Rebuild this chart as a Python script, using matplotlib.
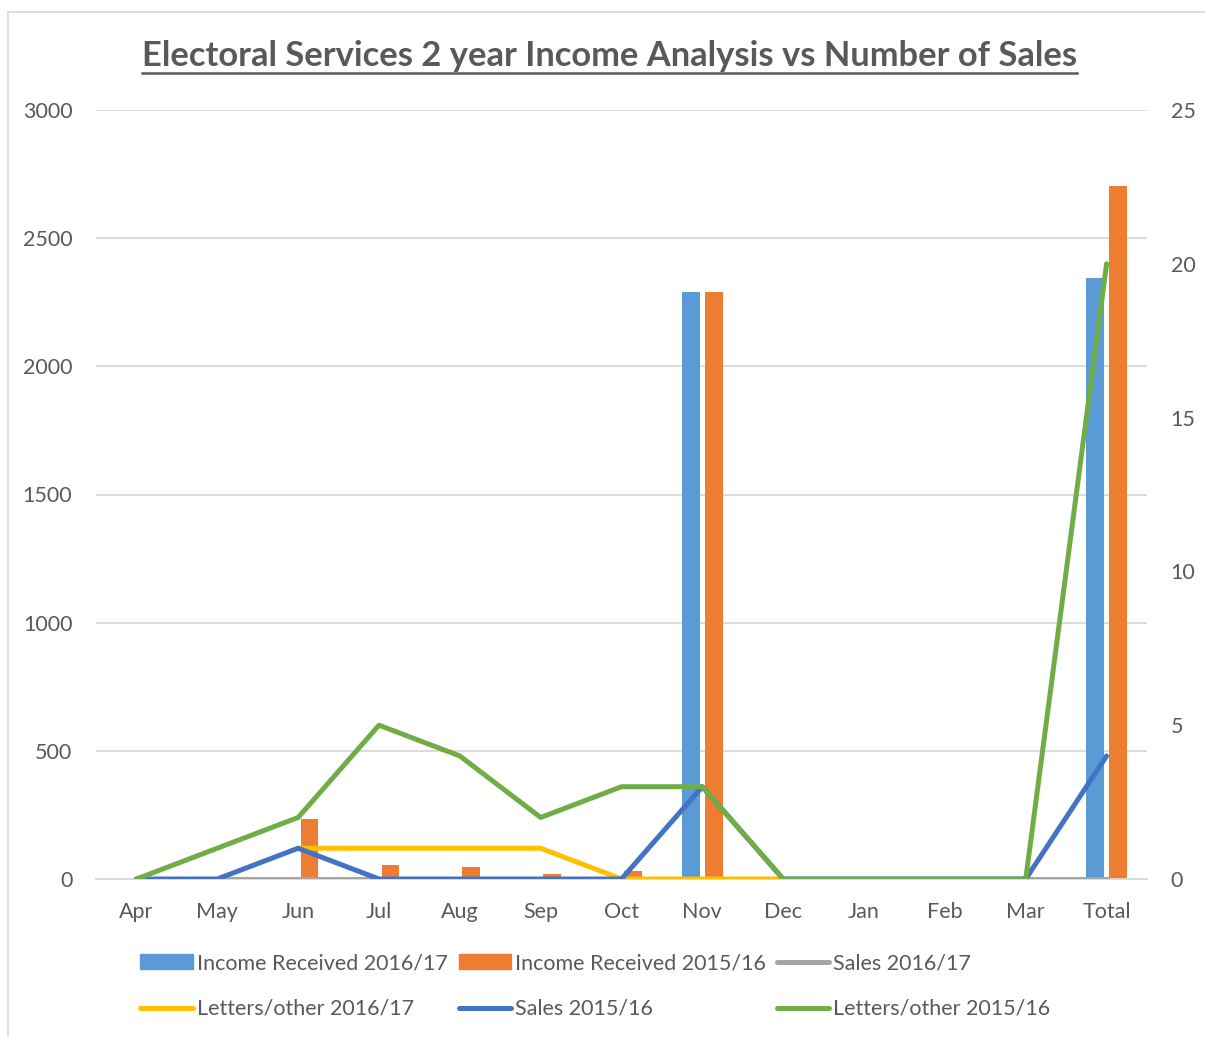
import matplotlib
matplotlib.use('Agg')
import matplotlib.pyplot as plt
import numpy as np
from matplotlib.lines import Line2D
from matplotlib.patches import Patch

plt.rcParams['font.family'] = ['Lato', 'DejaVu Sans']

months = ['Apr', 'May', 'Jun', 'Jul', 'Aug', 'Sep', 'Oct', 'Nov', 'Dec', 'Jan', 'Feb', 'Mar', 'Total']
income_1617 = [0, 0, 0, 0, 0, 0, 0, 2290, 0, 0, 0, 0, 2345]
income_1516 = [0, 0, 235, 55, 45, 18, 32, 2290, 0, 0, 0, 0, 2705]
sales_1617 = [0, 0, 0, 0, 0, 0, 0, 0, 0, 0, 0, 0, 0]
letters_1617 = [None, None, 1, 1, 1, 1, 0, 0, 0, None, None, None, None]
sales_1516 = [0, 0, 1, 0, 0, 0, 0, 3, 0, 0, 0, 0, 4]
letters_1516 = [0, 1, 2, 5, 4, 2, 3, 3, 0, 0, 0, 0, 20]

C_BLUE_BAR = '#5B9BD5'
C_ORANGE = '#ED7D31'
C_GRAY = '#A5A5A5'
C_YELLOW = '#FFC000'
C_BLUE = '#4472C4'
C_GREEN = '#70AD47'
TXT = '#595959'

W, H = 1205, 1037
fig = plt.figure(figsize=(W / 100, H / 100), dpi=100)

# chart border (partially cropped)
fig.add_artist(Line2D([8 / W, 1], [1 - 12 / H, 1 - 12 / H], color='#D9D9D9', lw=1.2))
fig.add_artist(Line2D([8 / W, 8 / W], [0, 1 - 12 / H], color='#D9D9D9', lw=1.2))

ax = fig.add_axes([96 / W, 1 - 879 / H, (1147 - 96) / W, (879 - 110) / H])
x = np.arange(len(months))
bw = 0.22
off = 0.142
ax.bar(x - off, income_1617, bw, color=C_BLUE_BAR, zorder=2)
ax.bar(x + off, income_1516, bw, color=C_ORANGE, zorder=2)
ax.set_ylim(0, 3000)
ax.set_xlim(-0.5, len(months) - 0.5)
ax.set_yticks(range(0, 3001, 500))
ax.yaxis.grid(True, color='#D9D9D9', lw=1.3, zorder=0)
ax.set_axisbelow(True)
ax.set_xticks(x)
ax.set_xticklabels(months)
ax.tick_params(axis='both', length=0, colors=TXT, labelsize=15.5)
ax.tick_params(axis='y', pad=17)
ax.tick_params(axis='x', pad=16.5)
for s in ['top', 'right', 'left']:
    ax.spines[s].set_visible(False)
ax.spines['bottom'].set_color('#D9D9D9')
ax.spines['bottom'].set_linewidth(1.3)

ax2 = ax.twinx()
ax2.set_ylim(0, 25)
ax2.set_yticks(range(0, 26, 5))
ax2.tick_params(axis='y', length=0, colors=TXT, labelsize=15.5, pad=17)
for s in ax2.spines.values():
    s.set_visible(False)

def arr(v):
    return np.array([np.nan if a is None else a for a in v], dtype=float)

lw = 3.6
ax2.plot(x, arr(sales_1617), color=C_GRAY, lw=lw, solid_capstyle='round')
ax2.plot(x, arr(letters_1617), color=C_YELLOW, lw=lw, solid_capstyle='round')
ax2.plot(x, arr(sales_1516), color=C_BLUE, lw=lw, solid_capstyle='round')
ax2.plot(x, arr(letters_1516), color=C_GREEN, lw=lw, solid_capstyle='round')

# title with underline
title = fig.text(0.5055, 1 - 56 / H, 'Electoral Services 2 year Income Analysis vs Number of Sales',
                 ha='center', va='center', fontsize=24.8, fontweight='bold', color=TXT)
fig.canvas.draw()
bb = title.get_window_extent().transformed(fig.transFigure.inverted())
fig.add_artist(Line2D([bb.x0, bb.x1], [1 - 73 / H, 1 - 73 / H], color=TXT, lw=1.8))

# legend (row-major order reshuffled for column-major filling)
h_inc17 = Patch(color=C_BLUE_BAR, label='Income Received 2016/17')
h_inc16 = Patch(color=C_ORANGE, label='Income Received 2015/16')
h_s17 = Line2D([], [], color=C_GRAY, lw=lw, solid_capstyle='round', label='Sales 2016/17')
h_l17 = Line2D([], [], color=C_YELLOW, lw=lw, solid_capstyle='round', label='Letters/other 2016/17')
h_s16 = Line2D([], [], color=C_BLUE, lw=lw, solid_capstyle='round', label='Sales 2015/16')
h_l16 = Line2D([], [], color=C_GREEN, lw=lw, solid_capstyle='round', label='Letters/other 2015/16')
handles = [h_inc17, h_l17, h_inc16, h_s16, h_s17, h_l16]
leg = fig.legend(handles=handles, ncol=3, loc='center', bbox_to_anchor=(0.494, 1 - 986 / H),
                 frameon=False, fontsize=15.5, handlelength=2.42, handleheight=0.65,
                 handletextpad=0.2, columnspacing=0.5, labelspacing=1.2,
                 borderpad=0)
for t in leg.get_texts():
    t.set_color(TXT)

fig.savefig('out.png', dpi=100, facecolor='white')
